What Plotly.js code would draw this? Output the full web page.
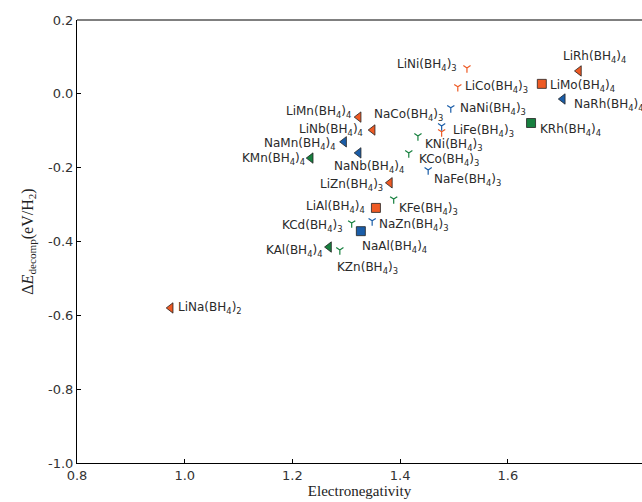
<!DOCTYPE html>
<html>
<head>
<meta charset="utf-8">
<script src="https://cdn.plot.ly/plotly-3.0.1.min.js"></script>
<style>html,body{margin:0;padding:0;background:#fff;}#chart{width:642px;height:502px;}</style>
</head>
<body>
<div id="chart"></div>
<script>
// ---- data ----
const compounds = ["LiNa(BH4)2","LiMn(BH4)4","LiNb(BH4)4","LiZn(BH4)3","LiRh(BH4)4",
  "NaMn(BH4)4","NaNb(BH4)4","NaRh(BH4)4","KMn(BH4)4","KAl(BH4)4",
  "LiMo(BH4)4","KRh(BH4)4","LiAl(BH4)4","NaAl(BH4)4",
  "LiNi(BH4)3","LiCo(BH4)3","LiFe(BH4)3","NaNi(BH4)3","NaCo(BH4)3","NaFe(BH4)3","NaZn(BH4)3",
  "KNi(BH4)3","KCo(BH4)3","KFe(BH4)3","KCd(BH4)3","KZn(BH4)3"];
const electronegativity = [0.974,1.323,1.349,1.381,1.732,
  1.296,1.323,1.702,1.234,1.268,
  1.663,1.643,1.355,1.327,
  1.524,1.507,1.477,1.494,1.477,1.452,1.348,
  1.433,1.416,1.388,1.310,1.288];
const dEdecomp = [-0.580,-0.063,-0.098,-0.241,0.062,
  -0.130,-0.160,-0.014,-0.174,-0.415,
  0.027,-0.079,-0.309,-0.372,
  0.070,0.019,-0.103,-0.038,-0.087,-0.206,-0.344,
  -0.114,-0.160,-0.285,-0.350,-0.423];
const cation = ["Li","Li","Li","Li","Li","Na","Na","Na","K","K",
  "Li","K","Li","Na",
  "Li","Li","Li","Na","Na","Na","Na","K","K","K","K","K"];
const markerType = ["tri","tri","tri","tri","tri","tri","tri","tri","tri","tri",
  "sq","sq","sq","sq",
  "y","y","y","y","y","y","y","y","y","y","y","y"];
const xTicks = [0.8,1.0,1.2,1.4,1.6];
const yTicks = [0.2,0.0,-0.2,-0.4,-0.6,-0.8,-1.0];

// ---- style / layout helpers ----
const colors = {Li:"#EE5A24", Na:"#1A5DA8", K:"#17803F"};
const symbols = {tri:"triangle-left", sq:"square", y:"y-down-open"};
const sizes = {tri:9, sq:9, y:6};
// label placement: [xanchor, xshift, yshift]
const labelPlace = [["left",5,0],["right",-6,5],["right",-8,0],["right",-5,-2],["left",-18,14],
  ["right",-6,-2],["left",-27,-14],["left",9,-6],["right",-4,-1],["right",-4,-4],
  ["left",6,-2],["left",7,-7],["right",-9,1],["left",-1,-16],
  ["right",-8,3],["left",5,0],["left",9,1],["left",7,-1],["right",3,11],["left",4,-10],["left",5,-4],
  ["left",5,-9],["left",8,-7],["left",3,-10],["right",-7,-3],["left",-5,-18]];

function fmt(name){
  return name.replace(/\(BH4\)(\d)/, "(BH<sub>4</sub>)<sub>$1</sub>");
}

const traces = [];
["tri","sq","y"].forEach(mt=>{
  ["Li","Na","K"].forEach(c=>{
    const idx = compounds.map((_,i)=>i).filter(i=>cation[i]===c && markerType[i]===mt);
    if(!idx.length) return;
    traces.push({
      type:"scatter", mode:"markers",
      x: idx.map(i=>electronegativity[i]),
      y: idx.map(i=>dEdecomp[i]),
      text: idx.map(i=>compounds[i]),
      hoverinfo:"text",
      showlegend:false,
      marker: mt==="y"
        ? {symbol:symbols[mt], size:sizes[mt], color:colors[c], line:{color:colors[c], width:1.2}}
        : {symbol:symbols[mt], size:sizes[mt], color:colors[c], line:{color:"#222", width:0.8}}
    });
  });
});

const annotations = compounds.map((n,i)=>({
  x: electronegativity[i], y: dEdecomp[i], xref:"x", yref:"y",
  text: fmt(n), showarrow:false,
  xanchor: labelPlace[i][0], yanchor:"middle",
  xshift: labelPlace[i][1], yshift: labelPlace[i][2],
  font:{family:"DejaVu Sans", size:12, color:"#2a2a2a"}
}));

const layout = {
  width:642, height:502,
  margin:{l:77, r:0, t:20, b:39},
  paper_bgcolor:"#fff", plot_bgcolor:"#fff",
  showlegend:false,
  xaxis:{
    range:[0.8, 1.849], tickvals:xTicks, ticktext:xTicks.map(v=>v.toFixed(1)),
    ticks:"inside", ticklen:4, tickcolor:"#000", tickwidth:1,
    showline:true, linecolor:"#000", linewidth:1, mirror:false,
    showgrid:false, zeroline:false,
    tickfont:{family:"DejaVu Sans", size:13, color:"#333"},
    title:{text:"Electronegativity", font:{family:"Liberation Serif, DejaVu Serif", size:15, color:"#222"}, standoff:2}
  },
  yaxis:{
    range:[-1.0, 0.2], tickvals:yTicks, ticktext:yTicks.map(v=>v.toFixed(1)),
    ticks:"inside", ticklen:4, tickcolor:"#000", tickwidth:1,
    showline:true, linecolor:"#000", linewidth:1, mirror:false,
    showgrid:false, zeroline:false,
    tickfont:{family:"DejaVu Sans", size:13, color:"#333"},
    title:{text:"Δ<i>E</i><sub>decomp</sub>(eV/H<sub>2</sub>)", font:{family:"Liberation Serif, DejaVu Serif", size:16, color:"#222"}, standoff:10}
  },
  shapes:[{type:"line", xref:"paper", yref:"paper", x0:0, x1:1, y0:1, y1:1, line:{color:"#000", width:1}}],
  annotations: annotations
};

Plotly.newPlot("chart", traces, layout, {displayModeBar:false, staticPlot:true});
</script>
</body>
</html>
